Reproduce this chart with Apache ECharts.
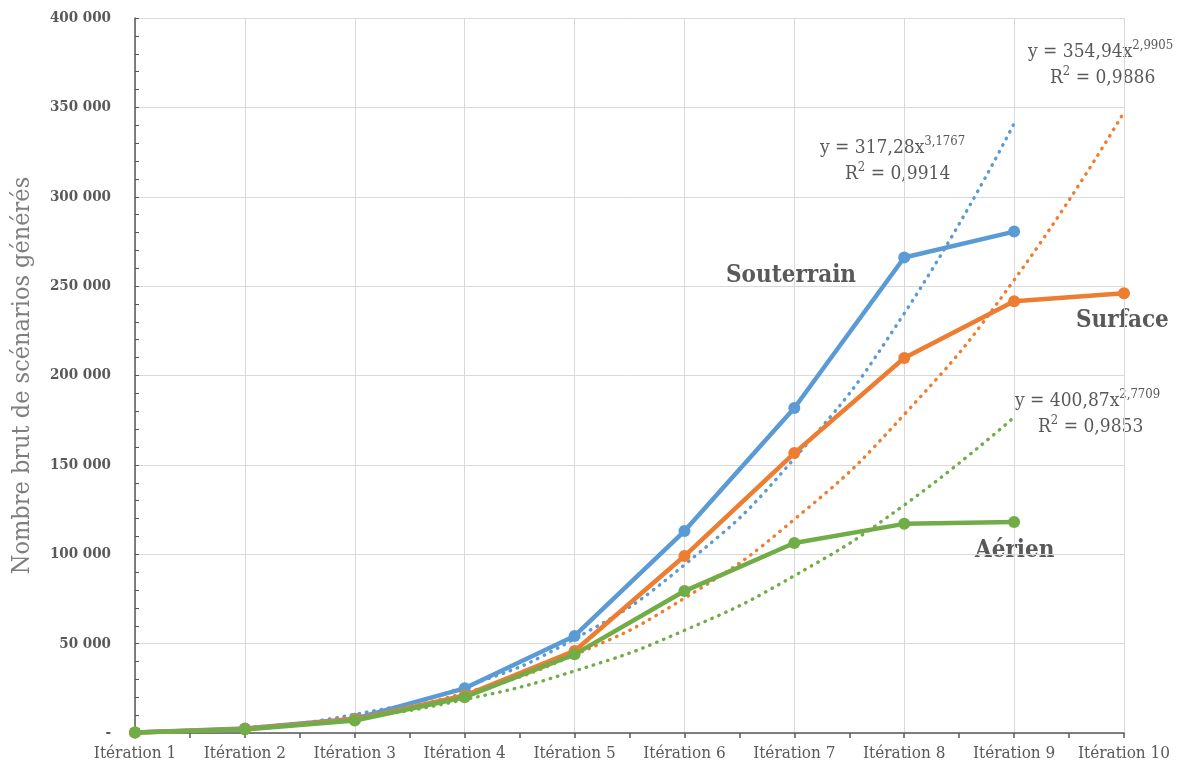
<!DOCTYPE html>
<html><head><meta charset="utf-8">
<script src="https://cdn.jsdelivr.net/npm/echarts@6/dist/echarts.min.js"></script>
<style>html,body{margin:0;padding:0;background:#fff}#c{width:1197px;height:771px}</style>
</head><body><div id="c"></div>
<script>
const categories = ['Itération 1','Itération 2','Itération 3','Itération 4','Itération 5','Itération 6','Itération 7','Itération 8','Itération 9','Itération 10'];
const yTicks = [0, 50000, 100000, 150000, 200000, 250000, 300000, 350000, 400000];
const souterrain = [300, 2500, 8000, 25000, 54300, 113000, 181800, 266000, 280500];
const surface = [300, 2300, 7500, 21000, 45900, 99000, 156600, 209800, 241500, 246000];
const aerien = [300, 2000, 7000, 20000, 44000, 79400, 106300, 117000, 118000];
const trendSouterrain = [317, 2870, 10400, 25900, 52700, 94100, 153600, 234700, 341000];
const trendSurface = [355, 2820, 9480, 22400, 43700, 75400, 119500, 178200, 253400, 347300];
const trendAerien = [401, 2740, 8410, 18700, 34700, 57400, 88000, 127500, 176700];

const FONT = '"DejaVu Serif Condensed", "DejaVu Serif"';
const chart = echarts.init(document.getElementById('c'));
function fmt(v){ if(v===0) return '-'; return String(v).replace(/\B(?=(\d{3})+(?!\d))/g,' '); }
const solid = (name, data, color) => ({
  name, type:'line', data, z:3,
  lineStyle:{color, width:4.5}, itemStyle:{color},
  symbol:'circle', symbolSize:12, showSymbol:true
});
const trend = (name, data, color) => ({
  name, type:'line', data, z:2, smooth:true, symbol:'none',
  lineStyle:{color, width:3.4, type:[0.5,7], cap:'round'}
});
const eqRich = (pad) => ({
  a:{fill:'#595959', fontFamily:FONT, fontSize:19, lineHeight:26},
  b:{fill:'#595959', fontFamily:FONT, fontSize:19, lineHeight:26, padding:[0,0,0,pad]},
  s:{fill:'#595959', fontFamily:FONT, fontSize:13, verticalAlign:'top', lineHeight:26}
});
chart.setOption({
  animation:false,
  grid:{left:135, right:73, top:18, bottom:38, containLabel:false, outerBoundsMode:'none'},
  xAxis:[{
    type:'category', data:categories, boundaryGap:false,
    axisLine:{lineStyle:{color:'#595959', width:1.5}},
    axisTick:{show:false},
    splitLine:{show:true, lineStyle:{color:'#d9d9d9', width:1}},
    axisLabel:{color:'#595959', fontFamily:FONT, fontSize:17, margin:12, interval:0, hideOverlap:false}
  },{
    type:'value', min:1, max:10, interval:0.5, position:'bottom',
    axisLine:{show:false}, axisLabel:{show:false}, splitLine:{show:false},
    axisTick:{show:true, length:5, lineStyle:{color:'#595959', width:1.5}}
  }],
  yAxis:{
    type:'value', min:yTicks[0], max:yTicks[yTicks.length-1], interval:50000,
    name:'Nombre brut de scénarios générés', nameLocation:'middle', nameGap:100,
    nameTextStyle:{color:'#7f7f7f', fontFamily:FONT, fontSize:25},
    axisLine:{show:true, lineStyle:{color:'#595959', width:1.5}},
    axisTick:{show:true, inside:true, length:4, lineStyle:{color:'#595959'}},
    minorTick:{show:true, splitNumber:5, length:4, lineStyle:{color:'#595959'}},
    splitLine:{show:true, lineStyle:{color:'#d9d9d9', width:1}},
    axisLabel:{color:'#595959', fontFamily:FONT, fontSize:15, fontWeight:'bold', margin:24, formatter:fmt}
  },
  series:[
    trend('trendSouterrain', trendSouterrain, '#5b9bd5'),
    trend('trendSurface', trendSurface, '#ed7d31'),
    trend('trendAerien', trendAerien, '#70ad47'),
    solid('Souterrain', souterrain, '#5b9bd5'),
    solid('Surface', surface, '#ed7d31'),
    solid('Aérien', aerien, '#70ad47')
  ],
  graphic:[
    {type:'text', left:726, top:264, style:{text:'Souterrain', fill:'#595959', font:'bold 24px '+FONT}},
    {type:'text', left:1076, top:309, style:{text:'Surface', fill:'#595959', font:'bold 24px '+FONT}},
    {type:'text', left:975, top:539, style:{text:'Aérien', fill:'#595959', font:'bold 24px '+FONT}},
    {type:'text', left:820, top:135, style:{text:'{a|y = 317,28x}{s|3,1767}\n{b|R}{s|2}{a| = 0,9914}', rich:eqRich(25)}},
    {type:'text', left:1028, top:39, style:{text:'{a|y = 354,94x}{s|2,9905}\n{b|R}{s|2}{a| = 0,9886}', rich:eqRich(22)}},
    {type:'text', left:1015, top:388, style:{text:'{a|y = 400,87x}{s|2,7709}\n{b|R}{s|2}{a| = 0,9853}', rich:eqRich(23)}}
  ]
});
</script></body></html>
